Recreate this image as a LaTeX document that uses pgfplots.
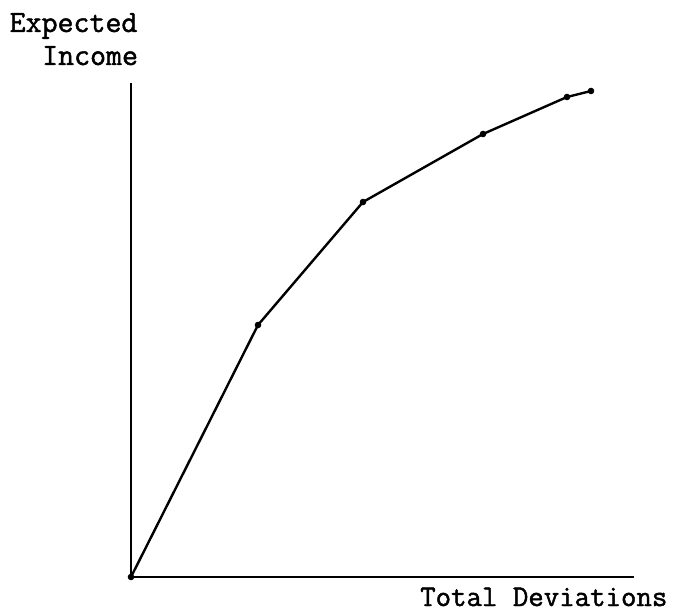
\documentclass[border=0pt]{standalone}
\usepackage{fontspec}
\newfontfamily\tw[FakeBold=1.5]{Latin Modern Mono}
\usepackage{pgfplots}
\pgfplotsset{compat=1.18}
\begin{document}
\begin{tikzpicture}[x=1pt,y=1pt]
\path[use as bounding box] (-131,-37) rectangle (560,577);
\begin{axis}[
  at={(0,0)}, anchor=origin,
  scale only axis, width=503pt, height=494pt,
  xmin=0, xmax=503, ymin=0, ymax=494,
  axis lines=left,
  axis line style={-, line width=2.8pt, black},
  xtick=\empty, ytick=\empty,
  clip=false,
]
\addplot[black, line width=2.4pt, mark=*, mark size=2pt]
  coordinates {(0,0) (127,252) (232,375) (352,443) (436,480) (460,486)};
\end{axis}
\node[anchor=base west, inner sep=0pt, font=\tw\fontsize{31}{31}\selectfont] at (-121.5,545) {Expected};
\node[anchor=base west, inner sep=0pt, font=\tw\fontsize{31}{31}\selectfont] at (-89,512) {Income};
\node[anchor=base west, inner sep=0pt, font=\tw\fontsize{30}{30}\selectfont] at (289,-29) {Total Deviations};
\end{tikzpicture}
\end{document}
